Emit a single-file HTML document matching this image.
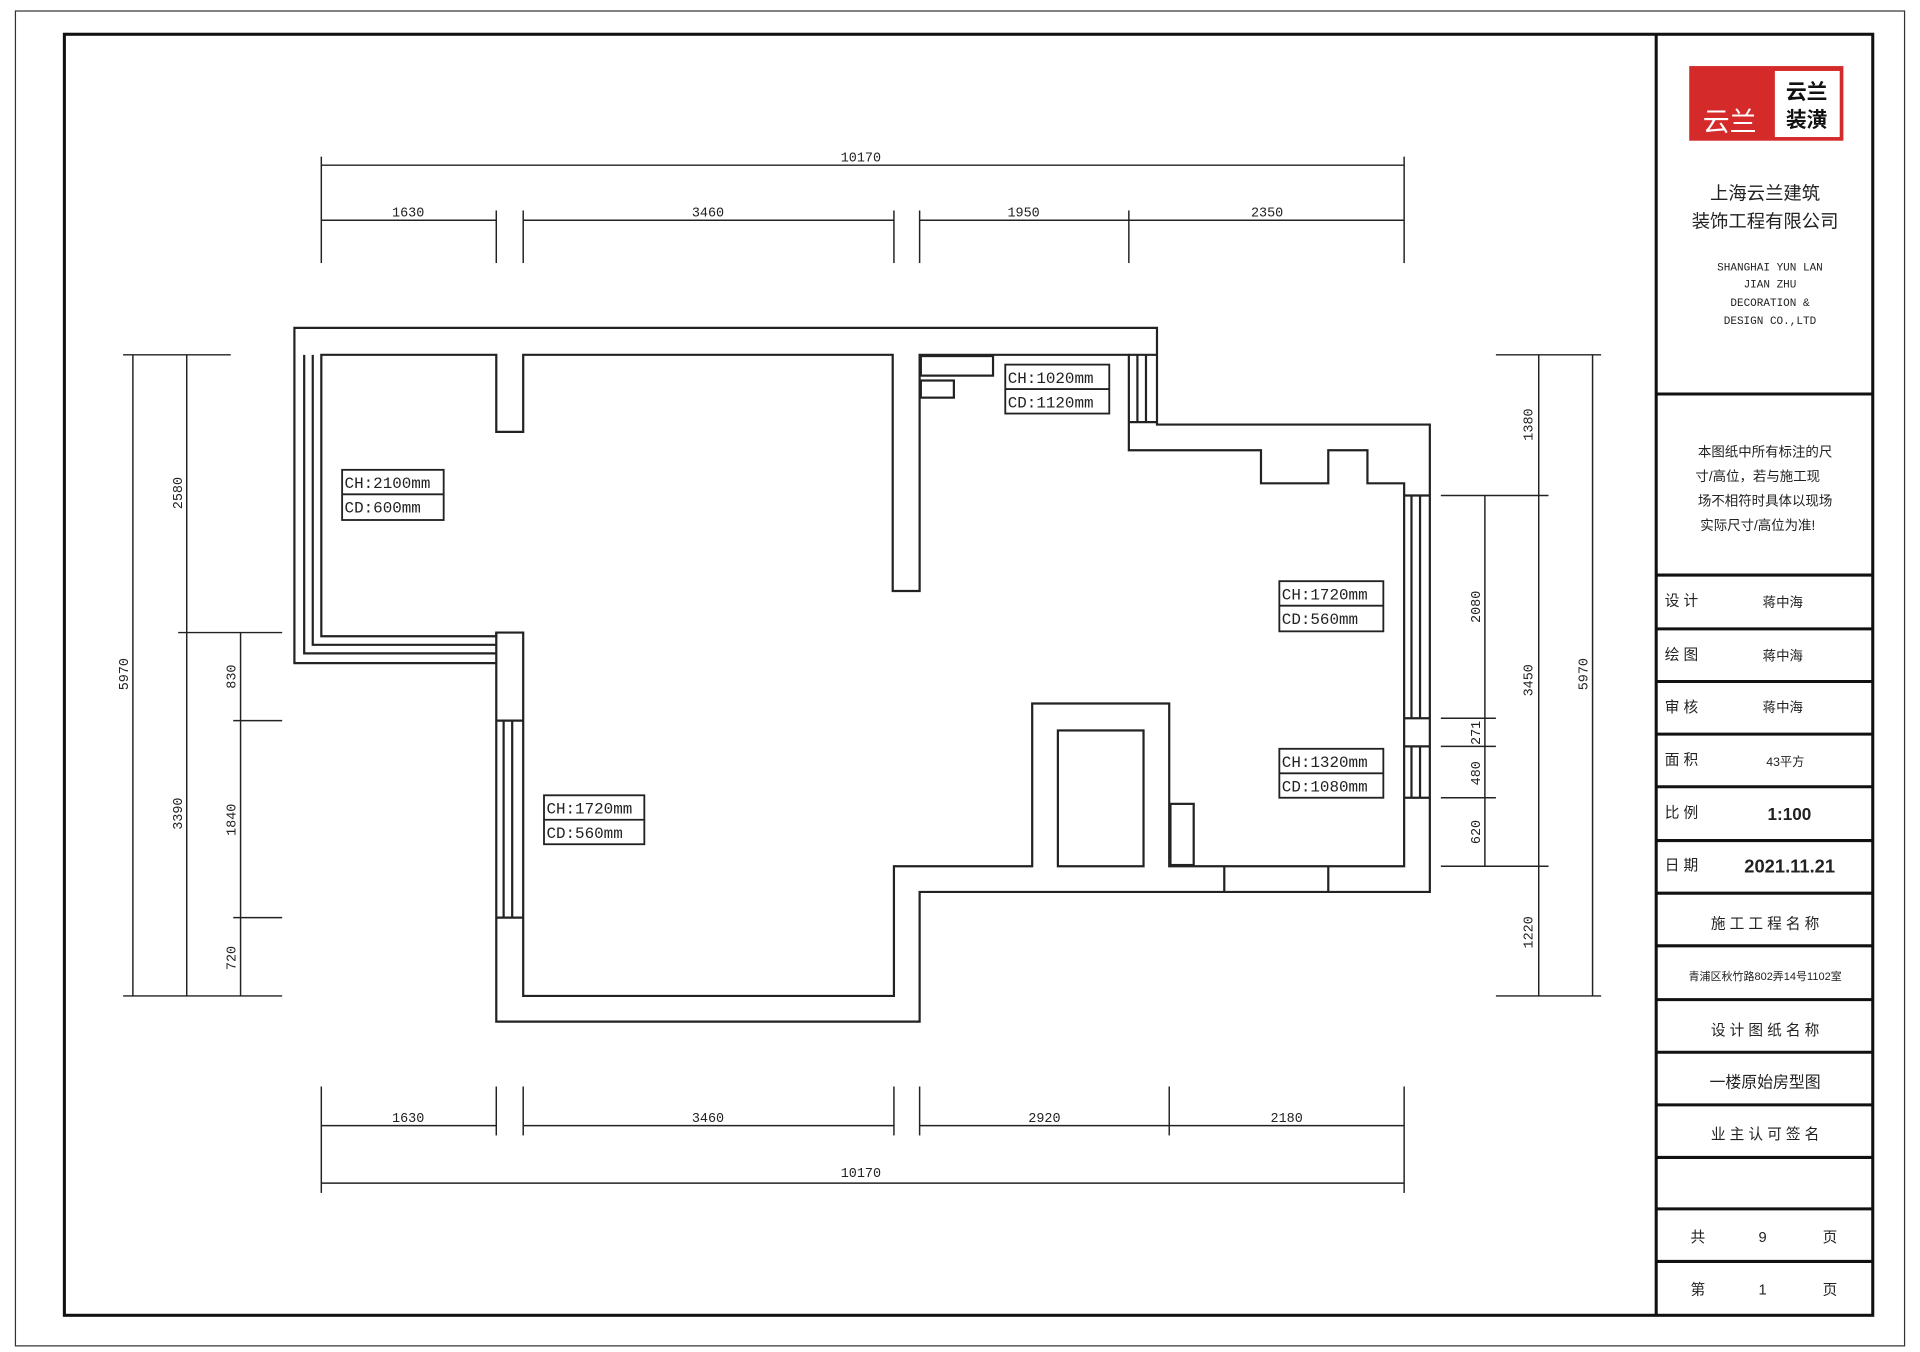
<!DOCTYPE html>
<html><head><meta charset="utf-8"><style>
html,body{margin:0;padding:0;background:#fff;}
svg{display:block;}
text{font-family:"Liberation Mono","Noto Sans CJK SC",monospace;fill:#222;}
.c{font-family:"Liberation Sans","Noto Sans CJK SC",sans-serif;}
</style></head><body>
<svg width="1920" height="1352" viewBox="0 0 1568 1105" xmlns="http://www.w3.org/2000/svg">
<rect width="1568" height="1105" fill="#fff"/>
<rect x="12" y="9" width="1544" height="1091" fill="none" stroke="#333" stroke-width="1"/>
<rect x="52" y="28" width="1478" height="1047" fill="none" stroke="#111" stroke-width="2.5"/>
<line x1="1353" y1="28" x2="1353" y2="1075" stroke="#111" stroke-width="2.5"/>
<g stroke="#111" stroke-width="2.5">
<line x1="1353" y1="322" x2="1530" y2="322"/>
<line x1="1353" y1="470" x2="1530" y2="470"/>
<line x1="1353" y1="514" x2="1530" y2="514"/>
<line x1="1353" y1="557" x2="1530" y2="557"/>
<line x1="1353" y1="600" x2="1530" y2="600"/>
<line x1="1353" y1="643" x2="1530" y2="643"/>
<line x1="1353" y1="687" x2="1530" y2="687"/>
<line x1="1353" y1="730" x2="1530" y2="730"/>
<line x1="1353" y1="773" x2="1530" y2="773"/>
<line x1="1353" y1="817" x2="1530" y2="817"/>
<line x1="1353" y1="860" x2="1530" y2="860"/>
<line x1="1353" y1="903" x2="1530" y2="903"/>
<line x1="1353" y1="946" x2="1530" y2="946"/>
<line x1="1353" y1="988" x2="1530" y2="988"/>
<line x1="1353" y1="1031" x2="1530" y2="1031"/>
</g>
<!-- logo -->
<rect x="1380" y="54" width="126" height="61" fill="#d42a2a"/>
<rect x="1450" y="58" width="53" height="54" fill="#fff"/>
<text x="1476" y="81" text-anchor="middle" class="c" font-size="17" font-weight="bold" style="fill:#111">云兰</text>
<text x="1476" y="104" text-anchor="middle" class="c" font-size="17" font-weight="bold" style="fill:#111">装潢</text>
<text x="1413" y="107" text-anchor="middle" class="c" font-size="22" style="fill:#fff">云兰</text>
<text x="1442" y="163" text-anchor="middle" class="c" font-size="15">上海云兰建筑</text>
<text x="1442" y="186" text-anchor="middle" class="c" font-size="15">装饰工程有限公司</text>
<g font-size="9" text-anchor="middle">
<text x="1446" y="221">SHANGHAI YUN LAN</text>
<text x="1446" y="235">JIAN ZHU</text>
<text x="1446" y="250">DECORATION &amp;</text>
<text x="1446" y="265">DESIGN CO.,LTD</text>
</g>
<g class="c" font-size="11" text-anchor="middle">
<text x="1442" y="373" class="c">本图纸中所有标注的尺</text>
<text x="1436" y="393" class="c">寸/高位，若与施工现</text>
<text x="1442" y="413" class="c">场不相符时具体以现场</text>
<text x="1436" y="433" class="c">实际尺寸/高位为准!</text>
</g>
<g class="c" font-size="12">
<text x="1360" y="495" class="c">设 计</text><text x="1440" y="496" class="c" font-size="11">蒋中海</text>
<text x="1360" y="539" class="c">绘 图</text><text x="1440" y="540" class="c" font-size="11">蒋中海</text>
<text x="1360" y="582" class="c">审 核</text><text x="1440" y="582" class="c" font-size="11">蒋中海</text>
<text x="1360" y="625" class="c">面 积</text><text x="1443" y="626" class="c" font-size="10">43平方</text>
<text x="1360" y="668" class="c">比 例</text><text x="1444" y="670" class="c" font-size="14" font-weight="bold">1:100</text>
<text x="1360" y="711" class="c">日 期</text><text x="1425" y="713" class="c" font-size="15" font-weight="bold">2021.11.21</text>
</g>
<g class="c" font-size="12" text-anchor="middle">
<text x="1442" y="759" class="c">施 工 工 程 名 称</text>
<text x="1442" y="801" class="c" font-size="9">青浦区秋竹路802弄14号1102室</text>
<text x="1442" y="846" class="c">设 计 图 纸 名 称</text>
<text x="1442" y="889" class="c" font-size="13">一楼原始房型图</text>
<text x="1442" y="931" class="c">业 主 认 可 签 名</text>
<text x="1387" y="1015" class="c">共</text><text x="1440" y="1015" class="c">9</text><text x="1495" y="1015" class="c">页</text>
<text x="1387" y="1058" class="c">第</text><text x="1440" y="1058" class="c">1</text><text x="1495" y="1058" class="c">页</text>
</g>
<!-- walls -->
<g fill="none" stroke="#222" stroke-width="1.8">
<path d="M240,268 H945 V347 H1168 V729 H751 V835 H405 V542 H240 Z"/>
<path d="M262,290 H405 V353 H427 V290 H729 V483 H751 V290 H922 V368 H1030 V395 H1085 V368 H1117 V395 H1147 V708 H955 V575 H843 V708 H730 V814 H427 V517 H405 V520 H262 Z"/>
<path d="M248,290 V534 H405 M255,290 V527 H405"/>
<line x1="405" y1="517" x2="405" y2="542"/>
<path d="M405,589 H427 M411,589 V750 M418,589 V750 M405,750 H427"/>
<path d="M1147,405 H1168 M1153,405 V587 M1160,405 V587 M1147,587 H1168 M1147,610 H1168 M1153,610 V652 M1160,610 V652 M1147,652 H1168"/>
<path d="M922,290 H945 M929,290 V345 M936,290 V345 M922,345 H945"/>
<path d="M1000,708 V729 M1085,708 V729"/>
<rect x="864" y="597" width="70" height="111"/>
<rect x="956" y="657" width="19" height="50"/>
<rect x="752" y="291" width="59" height="16"/>
<rect x="752" y="311" width="27" height="14"/>
</g>
<!-- CH labels -->
<g fill="#fff" stroke="#222" stroke-width="1.5">
<rect x="279" y="384" width="83" height="41"/><line x1="279" y1="404" x2="362" y2="404"/>
<rect x="1045" y="475" width="85" height="41"/><line x1="1045" y1="495" x2="1130" y2="495"/>
<rect x="1045" y="612" width="85" height="40"/><line x1="1045" y1="632" x2="1130" y2="632"/>
<rect x="444" y="650" width="82" height="40"/><line x1="444" y1="670" x2="526" y2="670"/>
<rect x="821" y="298" width="85" height="40"/><line x1="821" y1="318" x2="906" y2="318"/>
</g>
<g font-size="13">
<text x="281" y="399">CH:2100mm</text><text x="281" y="419">CD:600mm</text>
<text x="1047" y="490">CH:1720mm</text><text x="1047" y="510">CD:560mm</text>
<text x="1047" y="627">CH:1320mm</text><text x="1047" y="647">CD:1080mm</text>
<text x="446" y="665">CH:1720mm</text><text x="446" y="685">CD:560mm</text>
<text x="823" y="313">CH:1020mm</text><text x="823" y="333">CD:1120mm</text>
</g>
<!-- dimensions -->
<g stroke="#222" stroke-width="1.2" fill="none">
<line x1="262" y1="135" x2="1147" y2="135"/>
<line x1="262" y1="128" x2="262" y2="215"/><line x1="1147" y1="128" x2="1147" y2="215"/>
<line x1="262" y1="180" x2="405" y2="180"/><line x1="427" y1="180" x2="730" y2="180"/><line x1="751" y1="180" x2="1147" y2="180"/>
<line x1="405" y1="172" x2="405" y2="215"/><line x1="427" y1="172" x2="427" y2="215"/><line x1="730" y1="172" x2="730" y2="215"/><line x1="751" y1="172" x2="751" y2="215"/><line x1="922" y1="172" x2="922" y2="215"/>
<line x1="262" y1="967" x2="1147" y2="967"/>
<line x1="262" y1="888" x2="262" y2="975"/><line x1="1147" y1="888" x2="1147" y2="975"/>
<line x1="262" y1="920" x2="405" y2="920"/><line x1="427" y1="920" x2="730" y2="920"/><line x1="751" y1="920" x2="1147" y2="920"/>
<line x1="405" y1="888" x2="405" y2="928"/><line x1="427" y1="888" x2="427" y2="928"/><line x1="730" y1="888" x2="730" y2="928"/><line x1="751" y1="888" x2="751" y2="928"/><line x1="955" y1="888" x2="955" y2="928"/>
<line x1="108" y1="290" x2="108" y2="814"/><line x1="152" y1="290" x2="152" y2="814"/><line x1="196" y1="517" x2="196" y2="814"/>
<line x1="100" y1="290" x2="188" y2="290"/><line x1="145" y1="517" x2="230" y2="517"/><line x1="100" y1="814" x2="230" y2="814"/>
<line x1="190" y1="589" x2="230" y2="589"/><line x1="190" y1="750" x2="230" y2="750"/>
<line x1="1301" y1="290" x2="1301" y2="814"/><line x1="1257" y1="290" x2="1257" y2="814"/><line x1="1213" y1="405" x2="1213" y2="708"/>
<line x1="1222" y1="290" x2="1308" y2="290"/><line x1="1177" y1="405" x2="1265" y2="405"/><line x1="1177" y1="708" x2="1265" y2="708"/><line x1="1222" y1="814" x2="1308" y2="814"/>
<line x1="1177" y1="587" x2="1222" y2="587"/><line x1="1177" y1="610" x2="1222" y2="610"/><line x1="1177" y1="652" x2="1222" y2="652"/>
</g>
<g font-size="11" text-anchor="middle">
<text x="703" y="132">10170</text>
<text x="333" y="177">1630</text><text x="578" y="177">3460</text><text x="836" y="177">1950</text><text x="1035" y="177">2350</text>
<text x="333" y="917">1630</text><text x="578" y="917">3460</text><text x="853" y="917">2920</text><text x="1051" y="917">2180</text>
<text x="703" y="962">10170</text>
<text transform="translate(104,551) rotate(-90)">5970</text>
<text transform="translate(148,403) rotate(-90)">2580</text>
<text transform="translate(148,665) rotate(-90)">3390</text>
<text transform="translate(192,553) rotate(-90)">830</text>
<text transform="translate(192,670) rotate(-90)">1840</text>
<text transform="translate(192,783) rotate(-90)">720</text>
<text transform="translate(1297,551) rotate(-90)">5970</text>
<text transform="translate(1252,347) rotate(-90)">1380</text>
<text transform="translate(1252,556) rotate(-90)">3450</text>
<text transform="translate(1252,762) rotate(-90)">1220</text>
<text transform="translate(1209,496) rotate(-90)">2080</text>
<text transform="translate(1209,599) rotate(-90)">271</text>
<text transform="translate(1209,632) rotate(-90)">480</text>
<text transform="translate(1209,680) rotate(-90)">620</text>
</g>
</svg>
</body></html>
